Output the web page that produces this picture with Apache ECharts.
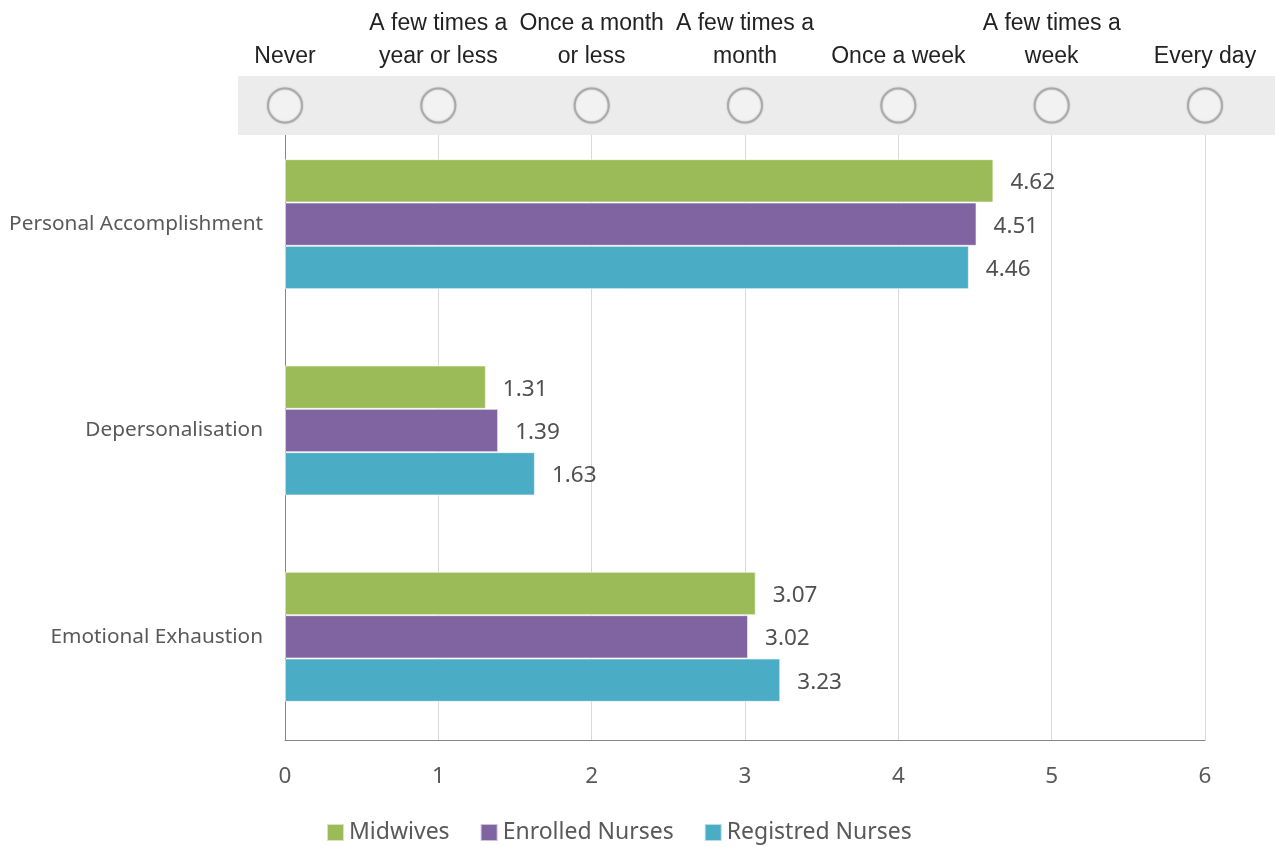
<!DOCTYPE html>
<html>
<head>
<meta charset="utf-8">
<script src="https://cdn.jsdelivr.net/npm/echarts@6/dist/echarts.min.js"></script>
<style>
  html, body { margin: 0; padding: 0; background: #fff; }
  #chart { width: 1275px; height: 847px; }
</style>
</head>
<body>
<div id="chart"></div>
<script>
// Burnout subscales, mean frequency score per staff group
const categories = ['Personal Accomplishment', 'Depersonalisation', 'Emotional Exhaustion'];
const midwives = [4.62, 1.31, 3.07];
const enrolledNurses = [4.51, 1.39, 3.02];
const registredNurses = [4.46, 1.63, 3.23];

// Frequency scale shown above the plot, one per integer score
const frequencyLabels = [
  'Never',
  'A few times a\nyear or less',
  'Once a month\nor less',
  'A few times a\nmonth',
  'Once a week',
  'A few times a\nweek',
  'Every day'
];
const xTicks = [0, 1, 2, 3, 4, 5, 6];

const textColor = '#595959';
const bodyFont = 'Noto Sans';

const chart = echarts.init(document.getElementById('chart'));

function barSeries(name, data, color) {
  return {
    name: name,
    type: 'bar',
    xAxisIndex: 0,
    yAxisIndex: 0,
    data: data,
    barGap: '0%',
    barCategoryGap: '37%',
    itemStyle: { color: color, borderColor: 'rgba(255,255,255,0.6)', borderWidth: 1 },
    label: {
      show: true,
      position: 'right',
      distance: 17,
      offset: [0, 2],
      color: '#505050',
      fontFamily: bodyFont,
      fontSize: 22.5,
      formatter: p => p.value.toFixed(2)
    }
  };
}

chart.setOption({
  animation: false,
  backgroundColor: '#ffffff',
  grid: [
    { left: 285, width: 920, top: 121, height: 619 },
    { left: 285, width: 920, top: 76, height: 59 }
  ],
  graphic: [
    {
      type: 'rect',
      z: 1,
      shape: { x: 238, y: 76, width: 1037, height: 59 },
      style: { fill: '#ececec' }
    }
  ],
  xAxis: [
    {
      gridIndex: 0,
      type: 'value',
      min: 0,
      max: 6,
      interval: 1,
      axisLine: { show: true, lineStyle: { color: '#868686', width: 1 } },
      axisTick: { show: false },
      splitLine: { show: true, lineStyle: { color: '#d9d9d9', width: 1 } },
      axisLabel: {
        color: textColor,
        fontFamily: bodyFont,
        fontSize: 22.5,
        margin: 25
      }
    },
    {
      gridIndex: 1,
      type: 'value',
      position: 'top',
      min: 0,
      max: 6,
      interval: 1,
      axisLine: { show: false },
      axisTick: { show: false },
      splitLine: { show: false },
      axisLabel: {
        showMinLabel: true,
        showMaxLabel: true,
        margin: 3,
        color: '#222222',
        fontFamily: 'Liberation Sans',
        fontSize: 23,
        lineHeight: 33,
        align: 'center',
        formatter: v => frequencyLabels[xTicks.indexOf(v)]
      }
    }
  ],
  yAxis: [
    {
      gridIndex: 0,
      type: 'category',
      inverse: true,
      data: categories,
      axisLine: { show: true, lineStyle: { color: '#868686', width: 1 } },
      axisTick: { show: false },
      axisLabel: {
        color: textColor,
        fontFamily: bodyFont,
        fontSize: 20.8,
        margin: 22,
        padding: [3, 0, 0, 0]
      }
    },
    {
      gridIndex: 1,
      type: 'value',
      min: 0,
      max: 1,
      show: false
    }
  ],
  legend: {
    top: 821,
    left: 326,
    padding: 0,
    itemWidth: 17,
    itemHeight: 17,
    itemGap: 30,
    icon: 'rect',
    textStyle: { color: textColor, fontFamily: bodyFont, fontSize: 23 },
    data: ['Midwives', 'Enrolled Nurses', 'Registred Nurses']
  },
  series: [
    barSeries('Midwives', midwives, '#9bbb59'),
    barSeries('Enrolled Nurses', enrolledNurses, '#8064a2'),
    barSeries('Registred Nurses', registredNurses, '#4bacc6'),
    {
      type: 'scatter',
      xAxisIndex: 1,
      yAxisIndex: 1,
      z: 5,
      symbol: 'circle',
      symbolSize: 34,
      silent: true,
      data: xTicks.map(x => [x, 0.5]),
      itemStyle: {
        color: '#ffffff',
        borderColor: '#a3a3a3',
        borderWidth: 2,
        shadowBlur: 2,
        shadowColor: 'rgba(0,0,0,0.25)'
      }
    }
  ]
});
</script>
</body>
</html>
